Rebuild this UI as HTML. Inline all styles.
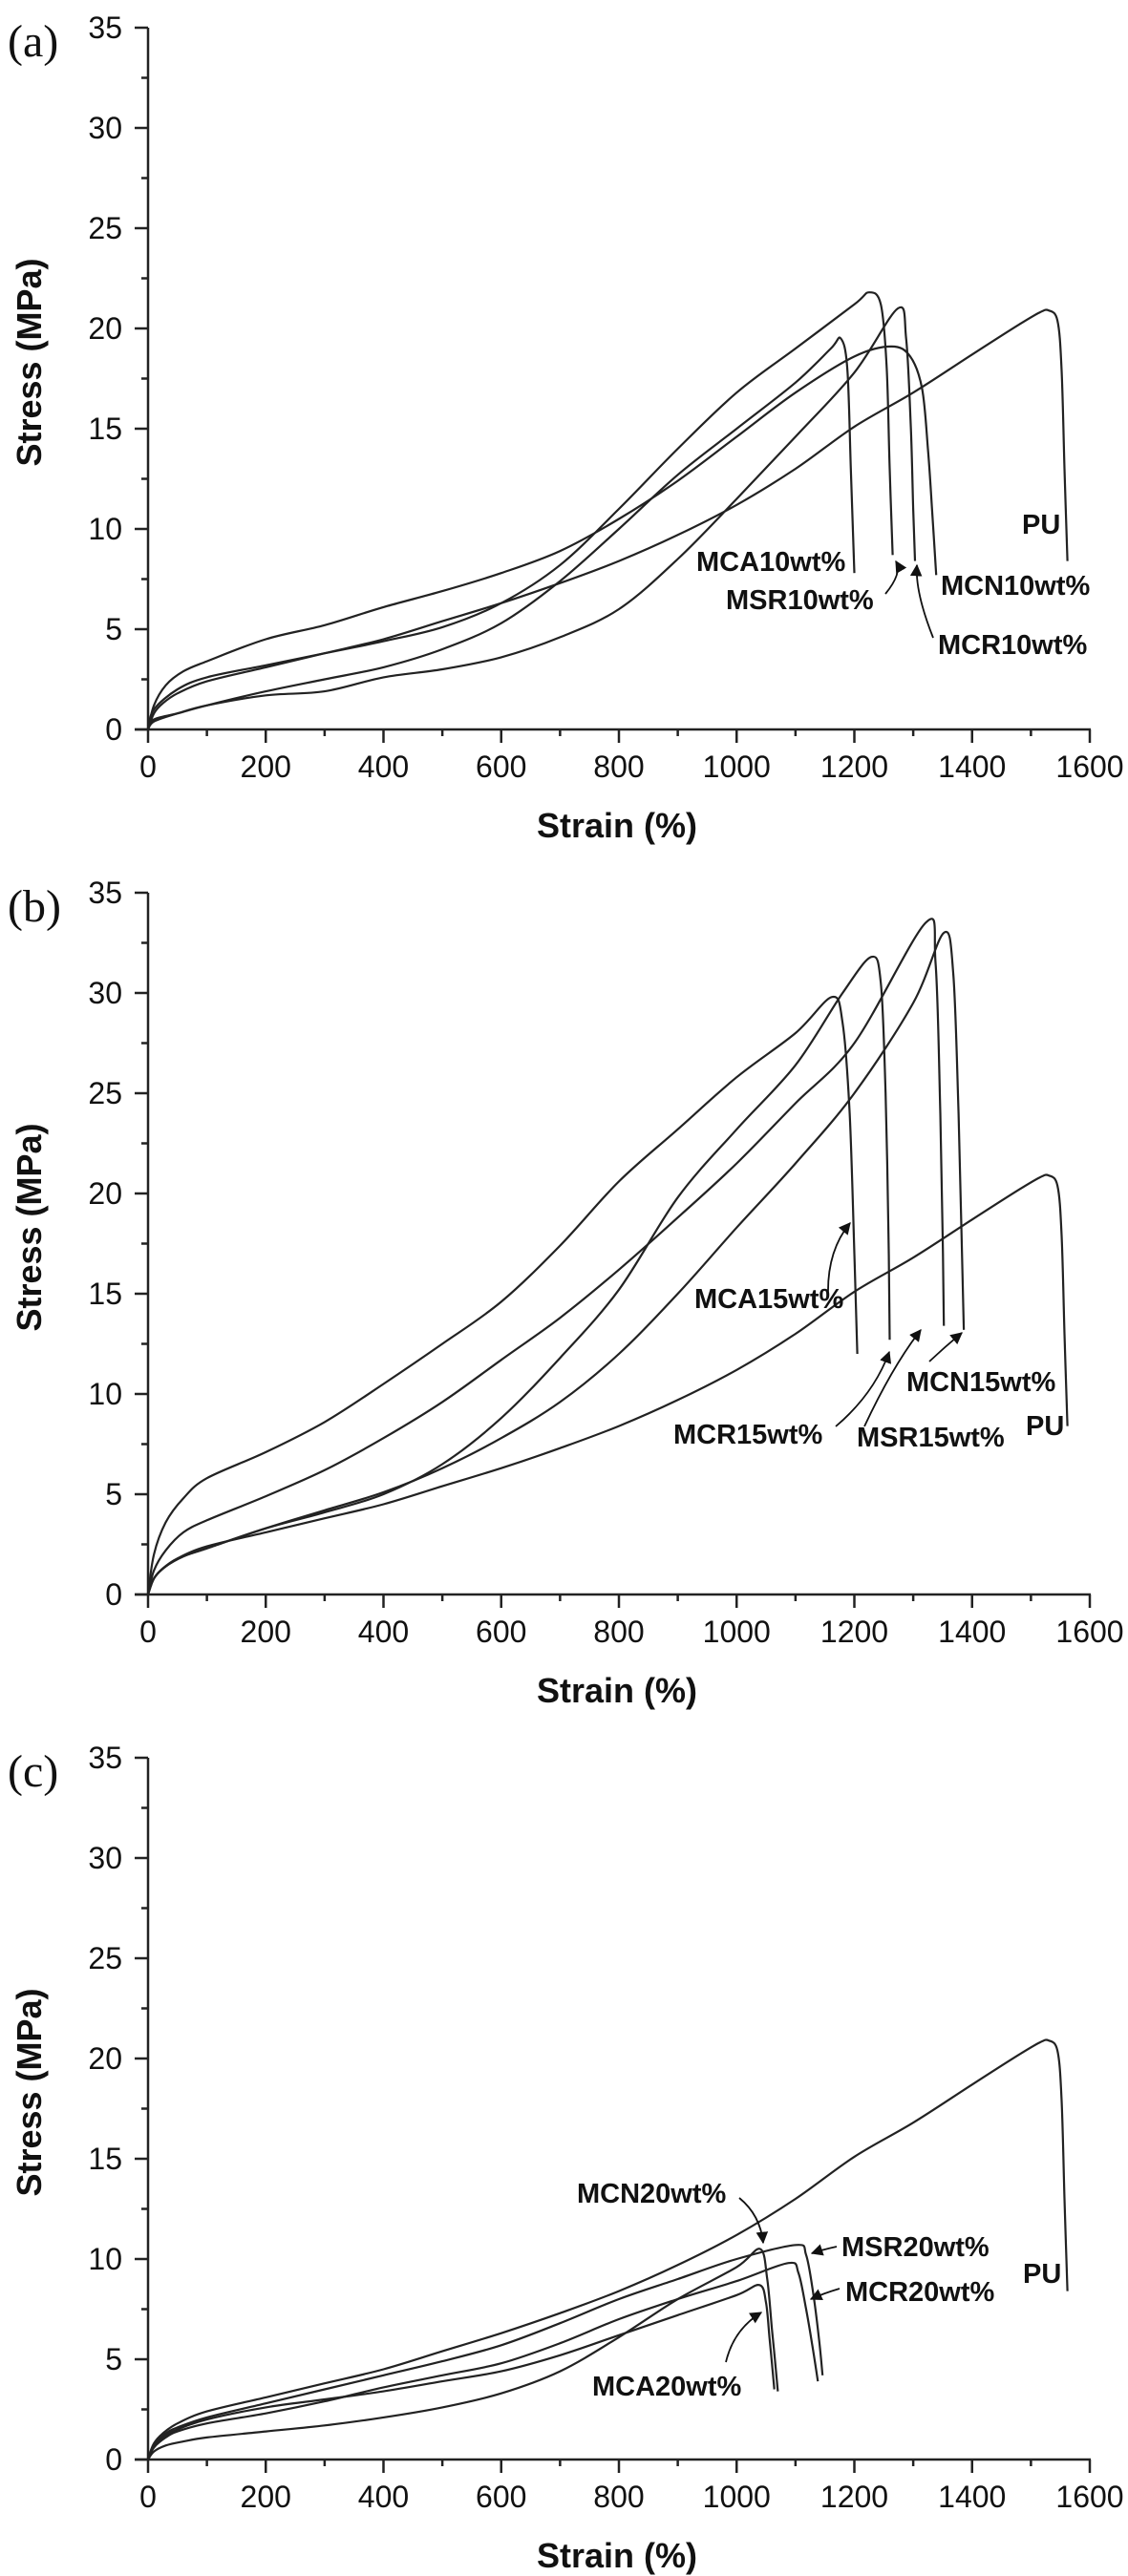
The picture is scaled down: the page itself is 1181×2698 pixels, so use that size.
<!DOCTYPE html>
<html><head><meta charset="utf-8"><style>
html,body{margin:0;padding:0;background:#fff}
svg{display:block}
text{font-family:"Liberation Sans",Arial,sans-serif;fill:#111}
.tick{font-size:32px}
.title{font-size:36px;font-weight:bold}
.ann{font-size:29px;font-weight:bold}
.plab{font-family:"Liberation Serif",serif;font-size:48px}
</style></head><body>
<svg id="fig" width="1181" height="2698" viewBox="0 0 1181 2698" xmlns="http://www.w3.org/2000/svg">
<defs><marker id="ah" viewBox="0 0 10 10" refX="9" refY="5" markerWidth="7" markerHeight="7" orient="auto"><path d="M0,0 L10,5 L0,10 z" fill="#111"/></marker></defs>
</svg>
<script>
// ---- data (strain %, stress MPa) ----
const xTicks = [0,200,400,600,800,1000,1200,1400,1600];
const yTicks = [0,5,10,15,20,25,30,35];
const panelLabels = ["(a)","(b)","(c)"];
const puStrain = [0,10,25,50,100,200,300,400,500,600,700,800,900,1000,1100,1200,1300,1400,1480,1515,1530,1545,1552,1557,1562];
const puStress = [0,0.8,1.3,1.8,2.4,3.1,3.8,4.5,5.4,6.3,7.3,8.4,9.7,11.2,13,15.1,16.8,18.7,20.2,20.8,20.9,20.4,18,13,8.4];
// panel a
const aMCAx = [0,10,50,100,200,300,400,500,600,700,800,900,1000,1100,1160,1177,1188,1194,1200];
const aMCAy = [0,0.5,0.8,1.2,1.9,2.5,3.1,4.0,5.3,7.4,10,12.7,15,17.3,19,19.5,18,13,7.8];
const aMSRx = [0,10,50,100,200,300,400,500,600,700,800,900,1000,1100,1200,1225,1245,1255,1260,1265];
const aMSRy = [0,1,2,2.6,3.2,3.8,4.4,5.1,6.3,8.2,11,14,16.8,19,21.2,21.8,21.2,18,13,8.7];
const aMCRx = [0,10,50,100,200,300,400,500,600,700,800,900,1000,1100,1200,1274,1288,1296,1300,1303];
const aMCRy = [0,0.4,0.8,1.2,1.7,1.9,2.6,3.0,3.6,4.6,6,8.5,11.5,14.6,17.8,21,19.5,15,11,8.4];
const aMCNx = [0,10,30,60,100,200,300,400,500,600,700,800,900,1000,1100,1200,1263,1295,1315,1325,1332,1339];
const aMCNy = [0,1.2,2.2,2.9,3.4,4.5,5.2,6.1,6.9,7.8,8.9,10.5,12.4,14.6,16.8,18.6,19.1,18.6,17,14,11,7.7];
// panel b
const bMCAx = [0,10,30,60,100,200,300,400,500,600,700,800,900,1000,1100,1162,1180,1192,1200,1205];
const bMCAy = [0,2,3.6,4.8,5.8,7.1,8.6,10.5,12.5,14.6,17.4,20.6,23.2,25.8,28,29.8,28.5,24,17,12];
const bMCRx = [0,10,30,60,100,200,300,400,500,600,700,800,900,1000,1100,1180,1229,1245,1253,1258,1260];
const bMCRy = [0,0.8,1.4,1.9,2.3,3.3,4.1,5,6.5,8.8,11.8,15.2,19.8,23.2,26.4,30,31.8,30.5,25,18,12.7];
const bMSRx = [0,10,30,60,100,200,300,400,500,600,700,800,900,1000,1100,1200,1321,1338,1346,1350,1352];
const bMSRy = [0,1.2,2.2,3.1,3.7,4.9,6.2,7.8,9.6,11.7,13.8,16.2,18.8,21.5,24.5,27.5,33.5,31.5,24,18,13.4];
const bMCNx = [0,10,30,60,100,200,300,400,500,600,700,800,900,1000,1100,1200,1300,1352,1368,1377,1382,1386];
const bMCNy = [0,0.8,1.4,1.9,2.3,3.3,4.2,5.1,6.3,7.8,9.6,12,15,18.3,21.5,25,29.5,33,31,24,18,13.2];
// panel c
const cMCAx = [0,10,30,50,100,200,300,400,500,600,700,800,900,1000,1039,1050,1056,1060,1064];
const cMCAy = [0,0.7,1.2,1.5,2.0,2.6,3.0,3.4,3.9,4.4,5.2,6.2,7.2,8.2,8.7,7.8,6,4.8,3.5];
const cMCRx = [0,10,30,50,100,200,300,400,500,600,700,800,900,1000,1088,1105,1118,1128,1138];
const cMCRy = [0,0.6,1.1,1.4,1.8,2.3,2.9,3.6,4.2,4.8,5.8,7,8,8.9,9.8,9.3,7.5,5.8,3.9];
const cMSRx = [0,10,30,50,100,200,300,400,500,600,700,800,900,1000,1101,1118,1130,1140,1146];
const cMSRy = [0,0.8,1.3,1.6,2.1,2.8,3.5,4.2,4.9,5.7,6.8,8,9,10,10.7,10.2,8.3,6,4.2];
const cMCNx = [0,10,30,60,100,200,300,400,500,600,700,800,900,1000,1040,1052,1060,1065,1070];
const cMCNy = [0,0.4,0.7,0.9,1.1,1.4,1.7,2.1,2.6,3.3,4.4,6.1,8,9.6,10.5,9,6.5,5,3.4];
const annText = [["MCA10wt%","MSR10wt%","MCN10wt%","MCR10wt%","PU"],["MCA15wt%","MCR15wt%","MSR15wt%","MCN15wt%","PU"],["MCN20wt%","MSR20wt%","MCR20wt%","MCA20wt%","PU"]];

const NS="http://www.w3.org/2000/svg";
const svg=document.getElementById('fig');
const X0=155, PXW=986, TOPS=[29,935,1841], PH=735;
function mk(tag,attrs,parent){const e=document.createElementNS(NS,tag);for(const k in attrs)e.setAttribute(k,attrs[k]);(parent||svg).appendChild(e);return e;}
function sx(v){return X0+v/1600*PXW;}
function smooth(P){
  let d='M'+P[0][0].toFixed(1)+','+P[0][1].toFixed(1);
  for(let i=0;i<P.length-1;i++){
    const p0=P[Math.max(0,i-1)],p1=P[i],p2=P[i+1],p3=P[Math.min(P.length-1,i+2)];
    const c1=[p1[0]+(p2[0]-p0[0])/6,p1[1]+(p2[1]-p0[1])/6];
    const c2=[p2[0]-(p3[0]-p1[0])/6,p2[1]-(p3[1]-p1[1])/6];
    d+=` C${c1[0].toFixed(1)},${c1[1].toFixed(1)} ${c2[0].toFixed(1)},${c2[1].toFixed(1)} ${p2[0].toFixed(1)},${p2[1].toFixed(1)}`;
  }
  return d;
}

const panels=[
 {series:[[puStrain,puStress,'pu'],[aMCAx,aMCAy,'mca10'],[aMSRx,aMSRy,'msr10'],[aMCRx,aMCRy,'mcr10'],[aMCNx,aMCNy,'mcn10']],
  ann:[[729,598],[760,638],[985,623],[982,685],[1070,559]],
  arrows:[[927,622,945,600,938,588],[977,668,958,620,960,592]]},
 {series:[[puStrain,puStress,'pu'],[bMCAx,bMCAy,'mca15'],[bMCRx,bMCRy,'mcr15'],[bMSRx,bMSRy,'msr15'],[bMCNx,bMCNy,'mcn15']],
  ann:[[727,1370],[705,1512],[897,1515],[949,1457],[1074,1503]],
  arrows:[[867,1356,866,1310,890,1281],[875,1494,915,1460,931,1416],[905,1494,935,1430,964,1393],[973,1426,990,1410,1007,1396]]},
 {series:[[puStrain,puStress,'pu'],[cMCAx,cMCAy,'mca20'],[cMCRx,cMCRy,'mcr20'],[cMSRx,cMSRy,'msr20'],[cMCNx,cMCNy,'mcn20']],
  ann:[[604,2307],[881,2363],[885,2410],[620,2509],[1071,2391]],
  arrows:[[774,2302,796,2320,799,2349],[876,2353,862,2356,850,2360],[879,2397,862,2402,849,2408],[760,2474,768,2440,797,2422]]}
];

panels.forEach((p,i)=>{
  const top=TOPS[i], base=top+PH;
  const sy=v=>base-v/35*PH;
  const g=mk('g',{});
  
  
  const pl=mk('text',{x:8,y:top+30,class:'plab'},g); pl.textContent=panelLabels[i];
  
  
  const ya=mk('line',{x1:X0,y1:top,x2:X0,y2:base,stroke:'#222','stroke-width':2.5},g);
  
  
  const xa=mk('line',{x1:X0-14,y1:base,x2:sx(1600)+1,y2:base,stroke:'#222','stroke-width':2.5},g);
  
  
  yTicks.forEach(v=>{
    mk('line',{x1:X0-14,y1:sy(v),x2:X0,y2:sy(v),stroke:'#222','stroke-width':2.5},g);
    if(v<35) mk('line',{x1:X0-7,y1:sy(v+2.5),x2:X0,y2:sy(v+2.5),stroke:'#222','stroke-width':2.5},g);
    const t=mk('text',{x:128,y:sy(v)+11,'text-anchor':'end',class:'tick'},g); t.textContent=v;
    
    
  });
  xTicks.forEach((v,k)=>{
    mk('line',{x1:sx(v),y1:base,x2:sx(v),y2:base+14,stroke:'#222','stroke-width':2.5},g);
    if(k<xTicks.length-1) mk('line',{x1:sx(v+100),y1:base,x2:sx(v+100),y2:base+7,stroke:'#222','stroke-width':2.5},g);
    const t=mk('text',{x:sx(v),y:base+50,'text-anchor':'middle',class:'tick'},g); t.textContent=v;
    
    
  });
  const yt=mk('text',{x:0,y:0,class:'title','text-anchor':'middle',transform:`translate(43,${(top+base)/2-17}) rotate(-90)`},g);
  yt.textContent='Stress (MPa)';
  
  
  const xt=mk('text',{x:646,y:base+113,class:'title','text-anchor':'middle'},g);
  xt.textContent='Strain (%)';
  
  
  p.series.forEach(s=>{
    const P=s[0].map((x,j)=>[sx(x),sy(s[1][j])]);
    const l=mk('path',{d:smooth(P),fill:'none',stroke:'#222','stroke-width':2.2,'stroke-linejoin':'round'},g);
    
    
  });
  p.ann.forEach((a,k)=>{
    const t=mk('text',{x:a[0],y:a[1],class:'ann'},g); t.textContent=annText[i][k];
    
    
  });
  p.arrows.forEach(a=>{
    const ar=mk('path',{d:`M${a[0]},${a[1]} Q${a[2]},${a[3]} ${a[4]},${a[5]}`,fill:'none',stroke:'#111','stroke-width':1.8,'marker-end':'url(#ah)'},g);
    
    
  });
});
</script>
</body></html>
